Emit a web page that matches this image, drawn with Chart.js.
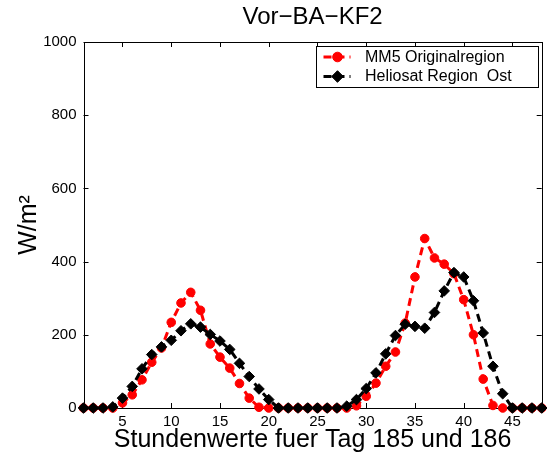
<!DOCTYPE html>
<html>
<head>
<meta charset="utf-8">
<script src="https://cdn.jsdelivr.net/npm/chart.js@4/dist/chart.umd.min.js"></script>
<style>
  html, body { margin: 0; padding: 0; background: #fff; }
  canvas { display: block; }
</style>
</head>
<body>
<canvas id="chart" width="548" height="455"></canvas>
<script>
const hours = [1, 2, 3, 4, 5, 6, 7, 8, 9, 10, 11, 12, 13, 14, 15, 16, 17, 18, 19, 20, 21, 22, 23, 24,
               25, 26, 27, 28, 29, 30, 31, 32, 33, 34, 35, 36, 37, 38, 39, 40, 41, 42, 43, 44, 45, 46, 47, 48];
const mm5 = [0, 0, 0, 0, 14, 36, 77, 125, 164, 234, 287, 316, 267, 175, 139, 109, 67, 27, 2, 0, 0, 0, 0, 0,
             0, 0, 0, 0, 6, 32, 68, 114, 153, 232, 358, 463, 410, 393, 367, 296, 200, 79, 7, 0, 0, 0, 0, 0];
const heliosat = [0, 0, 0, 3, 27, 59, 107, 146, 167, 185, 211, 230, 221, 201, 183, 160, 122, 86, 52, 23, 0, 0, 0, 0,
                  0, 0, 0, 5, 23, 53, 96, 148, 198, 229, 223, 218, 261, 320, 370, 358, 293, 205, 114, 39, 0, 0, 0, 0];
const seriesNames = ["MM5 Originalregion", "Heliosat Region  Ost"];
const xTicks = [5, 10, 15, 20, 25, 30, 35, 40, 45];
const yTicks = [0, 200, 400, 600, 800, 1000];

const FONT = "'Liberation Sans', Arial, Helvetica, sans-serif";

function toPoints(vals) {
  return hours.map((h, i) => ({ x: h, y: vals[i] }));
}

// matlab style frame with ticks pointing inwards
const frame = {
  id: "frame",
  beforeDatasetsDraw(chart) {
    const { ctx, chartArea: a, scales } = chart;
    const len = 5;
    ctx.save();
    ctx.strokeStyle = "#000";
    ctx.lineWidth = 1;
    ctx.beginPath();
    xTicks.forEach(v => {
      const px = Math.round(scales.x.getPixelForValue(v)) + 0.5;
      ctx.moveTo(px, a.bottom); ctx.lineTo(px, a.bottom - len);
      ctx.moveTo(px, a.top); ctx.lineTo(px, a.top + len);
    });
    yTicks.forEach(v => {
      const py = Math.round(scales.y.getPixelForValue(v)) + 0.5;
      ctx.moveTo(a.left, py); ctx.lineTo(a.left + len, py);
      ctx.moveTo(a.right, py); ctx.lineTo(a.right - len, py);
    });
    ctx.stroke();
    ctx.strokeRect(Math.round(a.left) + 0.5, Math.round(a.top) + 0.5,
                   Math.round(a.right - a.left), Math.round(a.bottom - a.top));
    ctx.restore();
  }
};

function marker(ctx, style, x, y, r) {
  ctx.beginPath();
  if (style === "rectRot") {
    ctx.moveTo(x - r, y); ctx.lineTo(x, y - r); ctx.lineTo(x + r, y); ctx.lineTo(x, y + r);
    ctx.closePath();
  } else {
    ctx.arc(x, y, r, 0, Math.PI * 2);
  }
  ctx.fill();
  ctx.stroke();
}

// legend box inside the axes, top right
const boxLegend = {
  id: "boxLegend",
  afterDraw(chart) {
    const { ctx, chartArea: a } = chart;
    const w = 222, h = 41;
    const x0 = Math.round(a.right - 226) + 0.5;
    const y0 = Math.round(a.top + 4) + 0.5;
    ctx.save();
    ctx.fillStyle = "#fff";
    ctx.fillRect(x0, y0, w, h);
    ctx.strokeStyle = "#000";
    ctx.lineWidth = 1;
    ctx.strokeRect(x0, y0, w, h);
    chart.data.datasets.forEach((ds, i) => {
      const cy = y0 + 10.5 + i * 19.5;
      ctx.strokeStyle = ds.borderColor;
      ctx.lineWidth = 3;
      ctx.setLineDash([8, 5]);
      ctx.beginPath();
      ctx.moveTo(x0 + 7, cy);
      ctx.lineTo(x0 + 34, cy);
      ctx.stroke();
      ctx.setLineDash([]);
      ctx.lineWidth = 1;
      ctx.fillStyle = ds.pointBackgroundColor;
      ctx.strokeStyle = ds.pointBorderColor;
      marker(ctx, ds.pointStyle, x0 + 21, cy, ds.pointRadius + 0.5);
      ctx.fillStyle = "#000";
      ctx.font = "16px " + FONT;
      ctx.textBaseline = "middle";
      ctx.textAlign = "left";
      ctx.fillText(ds.label, x0 + 48.5, cy + 0.5);
    });
    ctx.restore();
  }
};

new Chart(document.getElementById("chart"), {
  type: "line",
  data: {
    datasets: [
      {
        label: seriesNames[0],
        data: toPoints(mm5),
        borderColor: "#ff0000",
        borderWidth: 3,
        borderDash: [8, 5],
        pointStyle: "circle",
        pointRadius: 4.3,
        pointBackgroundColor: "#ff0000",
        pointBorderColor: "#ff0000",
        pointBorderWidth: 1,
        tension: 0,
        clip: false,
        order: 1,
      },
      {
        label: seriesNames[1],
        data: toPoints(heliosat),
        borderColor: "#000000",
        borderWidth: 3,
        borderDash: [8, 5],
        pointStyle: "rectRot",
        pointRadius: 5.3,
        pointBackgroundColor: "#000000",
        pointBorderColor: "#000000",
        pointBorderWidth: 1,
        tension: 0,
        clip: false,
        order: 0,
      },
    ],
  },
  options: {
    responsive: false,
    animation: false,
    devicePixelRatio: 1,
    layout: { padding: { left: 0, right: 1, top: 0, bottom: 0 } },
    plugins: {
      legend: { display: false },
      tooltip: { enabled: false },
    },
    scales: {
      x: {
        type: "linear",
        position: "bottom",
        min: 1,
        max: 48,
        afterBuildTicks: s => { s.ticks = xTicks.map(v => ({ value: v })); },
        afterFit: s => { s.height = 47; },
        grid: { display: false, drawTicks: false },
        border: { display: false },
        ticks: { font: { family: FONT, size: 15 }, color: "#000", padding: 5, maxRotation: 0,
                 callback: v => String(v) },
        title: {
          display: true,
          text: "Stundenwerte fuer Tag 185 und 186",
          font: { family: FONT, size: 25 },
          color: "#000",
          padding: { top: 0, bottom: 0 },
        },
      },
      x2: {
        type: "linear",
        position: "top",
        min: 1,
        max: 48,
        afterFit: s => { s.height = 42; },
        grid: { display: false, drawTicks: false },
        border: { display: false },
        ticks: { display: false },
        title: {
          display: true,
          text: "Vor\u2212BA\u2212KF2",
          font: { family: FONT, size: 24 },
          color: "#000",
          padding: { top: 3, bottom: 0 },
        },
      },
      y: {
        type: "linear",
        min: 0,
        max: 1000,
        afterBuildTicks: s => { s.ticks = yTicks.map(v => ({ value: v })); },
        afterFit: s => { s.width = 83.5; },
        grid: { display: false, drawTicks: false },
        border: { display: false },
        ticks: { font: { family: FONT, size: 15 }, color: "#000", padding: 7,
                 callback: v => String(v) },
        title: {
          display: true,
          text: "W/m\u00B2",
          font: { family: FONT, size: 25 },
          color: "#000",
          padding: { top: 14, bottom: 0 },
        },
      },
    },
  },
  plugins: [frame, boxLegend],
});
</script>
</body>
</html>
